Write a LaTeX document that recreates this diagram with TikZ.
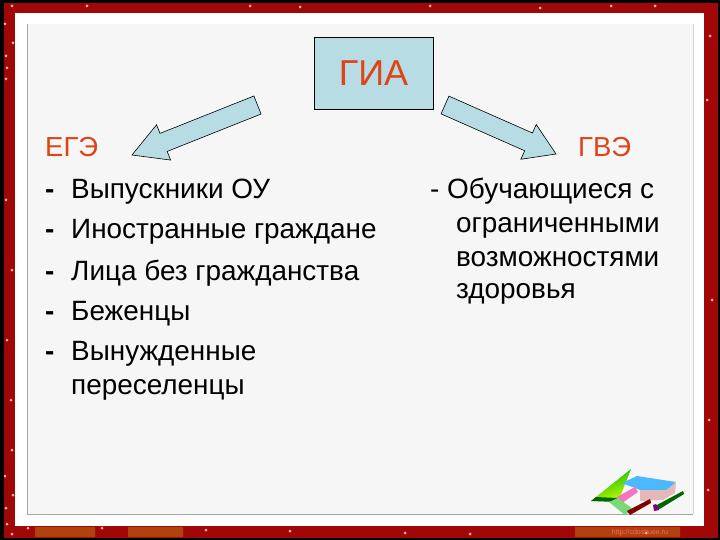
\documentclass[tikz,border=0pt]{standalone}
\usepackage{fontspec}
\setmainfont{Liberation Sans}
\usepackage{tikz}
\usetikzlibrary{calc}
\definecolor{framered}{HTML}{A00808}
\definecolor{bandorange}{HTML}{B0420E}
\definecolor{paneltint}{HTML}{F7F6F6}
\definecolor{boxblue}{HTML}{B8DCE4}
\definecolor{headred}{HTML}{DE4416}
\tikzset{
	boxstyle/.style={rectangle,draw=black,line width=0.8pt,fill=boxblue,text=headred,minimum width=119pt,minimum height=72pt,font=\fontsize{36}{36}\selectfont},
	headstyle/.style={anchor=base west,inner sep=0pt,text=headred,font=\fontsize{27.5}{27.5}\selectfont},
	itemstyle/.style={anchor=base west,inner sep=0pt,text=black,font=\fontsize{27.9}{27.9}\selectfont},
	fatstyle/.style={draw=black,line width=0.6pt,fill=boxblue,line join=miter},
	sparkstyle/.style={circle,fill=white!70!red,inner sep=0pt,minimum size=3pt}
}
% from, to, head length
\newcommand{\fatarrow}[3]{
	\coordinate (neck) at ($(#2)!#3!(#1)$);
	\draw[fatstyle] ($(#1)!9.7pt!90:(#2)$)--($(neck)!9.7pt!90:(#2)$)--($(neck)!19pt!90:(#2)$)--(#2)
		--($(neck)!19pt!-90:(#2)$)--($(neck)!9.7pt!-90:(#2)$)--($(#1)!9.7pt!-90:(#2)$)--cycle;
}
\begin{document}
\begin{tikzpicture}[x=1pt,y=-1pt]
	\useasboundingbox (0,0) rectangle (720,540);
	\fill[black] (0,0) rectangle (720,540);
	\fill[framered] (4,3) rectangle (718,538);
	\fill[bandorange] (35,527) rectangle (95,537) (128,527) rectangle (183,537) (575,527) rectangle (680,537);
	\foreach \x/\y in {12/6,87/6,5/24,13/43,6/56,7/68,6/79,12/450,5/476,13/495,6/508,7/524,12/534,28/528,102/528,206/530,290/531,
		405/533,470/534,611/6,655/6,710/36,250/6,300/7,430/6,540/8,707/100,712/300,709/420,708/490,646/533,
		6/200,12/270,7/340,11/400}
	\node[sparkstyle] at (\x,\y) {};
	\fill[white] (15,13) rectangle (704,526);
	\fill[paneltint] (27,24) rectangle (693,514);
	\draw[gray!70,line width=0.8pt] (27,24)--(27,514)--(693,514);
	\draw[gray!35,line width=0.8pt] (693,24)--(693,514);
	\node[boxstyle] (gia) at (373.5,73) {ГИА};
	\coordinate (lefttail) at (257.5,105);
	\coordinate (lefttip) at (132,155);
	\coordinate (righttail) at (445,105);
	\coordinate (righttip) at (556,154);
	\fatarrow{lefttail}{lefttip}{34pt}
	\fatarrow{righttail}{righttip}{30pt}
	\node[headstyle] (ege) at (45,157) {ЕГЭ};
	\node[headstyle] (gve) at (578,157) {ГВЭ};
	\foreach \y/\t/\n in {199/Выпускники ОУ/grad,239/Иностранные граждане/foreign,280/Лица без гражданства/stateless,320/Беженцы/refugee,360/Вынужденные/forced}
	{
		\node[itemstyle] (dash\n) at (45,\y) {\bfseries -};
		\node[itemstyle] (\n) at (71,\y) {\t};
	}
	\node[itemstyle] (resettled) at (71,394) {переселенцы};
	\node[itemstyle] (learners) at (430,199) {- Обучающиеся с};
	\foreach \y/\t/\n in {233/ограниченными/limited,266/возможностями/abilities,298/здоровья/health}
	\node[itemstyle] (\n) at (456,\y) {\t};
	% pencils and book
	\shade[left color=green!70!black,right color=yellow!80!green,shading angle=20] (591,501)--(631,469)--(618,502)--cycle;
	\fill[black!60!green] (591,501)--(618,502)--(617,498)--(596,497)--cycle;
	\fill[blue!40!cyan!70!white] (622,483)--(637,476)--(676,482)--(667,490)--(640,490)--cycle;
	\fill[red!20!white!90!black] (640,490)--(667,490)--(676,482)--(675,493)--(663,500)--(640,501)--cycle;
	\fill[magenta!55!white] (617,497)--(635,487)--(638,492)--(622,503)--cycle;
	\fill[green!45!white!85!black] (609,502)--(618,498)--(633,509)--(625,515)--cycle;
	\fill[red!50!black] (627,511)--(650,499)--(651,503)--(630,515)--cycle;
	\fill[green!40!black] (655,506)--(683,491)--(684,494)--(658,510)--cycle;
	\fill[violet] (653,505)--(656,504)--(659,510)--(654,511)--cycle;
	\node[inner sep=0pt,text=red!60!white,font=\fontsize{7}{7}\selectfont] (site) at (640,533) {http://cdoshuee.ru};
\end{tikzpicture}
\end{document}
